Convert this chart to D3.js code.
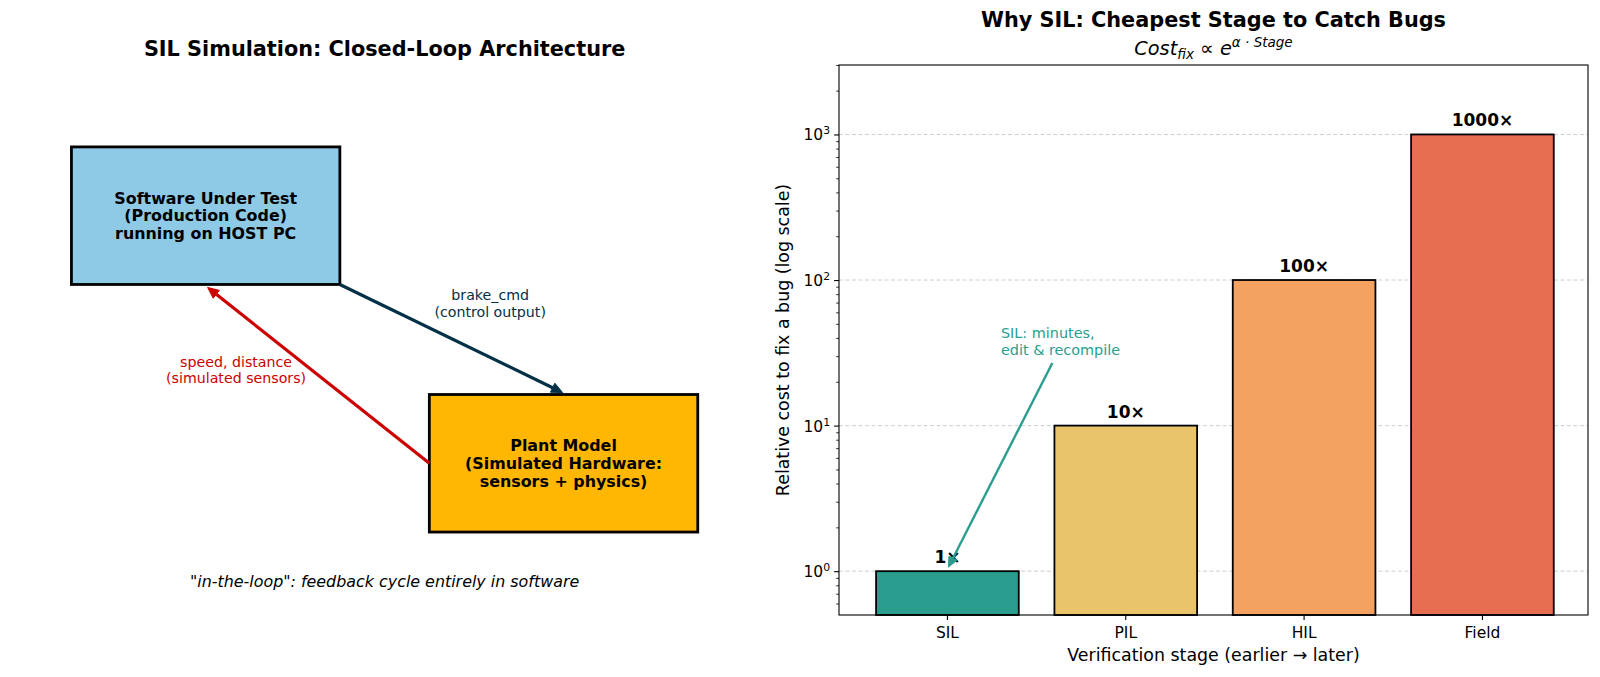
<!DOCTYPE html>
<html>
<head>
<meta charset="utf-8">
<script src="https://cdn.jsdelivr.net/npm/d3@7"></script>
<style>
  body { margin: 0; background: #fff; }
  text { font-family: 'DejaVu Sans', sans-serif; }
</style>
</head>
<body>
<script>
var W = 1600, H = 677;

// ---- data: right panel ----
var stages = ['SIL', 'PIL', 'HIL', 'Field'];
var relCost = [1, 10, 100, 1000];
var costLabels = ['1×', '10×', '100×', '1000×'];
var stageColors = ['#2a9d8f', '#e9c46a', '#f4a261', '#e76f51'];
var majorTicks = [1, 10, 100, 1000];
var minorTicks = [0.6, 0.7, 0.8, 0.9, 2, 3, 4, 5, 6, 7, 8, 9,
  20, 30, 40, 50, 60, 70, 80, 90, 200, 300, 400, 500, 600, 700, 800, 900, 2000, 3000];
var noteLines = ['SIL: minutes,', 'edit & recompile'];

// ---- data: left panel ----
var swLines = ['Software Under Test', '(Production Code)', 'running on HOST PC'];
var plantLines = ['Plant Model', '(Simulated Hardware:', 'sensors + physics)'];
var cmdLines = ['brake_cmd', '(control output)'];
var sensorLines = ['speed, distance', '(simulated sensors)'];
var caption = '"in-the-loop": feedback cycle entirely in software';

var svg = d3.select('body').append('svg').attr('width', W).attr('height', H);
svg.append('rect').attr('width', W).attr('height', H).attr('fill', '#fff');

// ================= left panel: diagram in 0..8 x 0..7 units =================
var dx = d3.scaleLinear().domain([0, 8]).range([26.7, 742.5]);
var dy = d3.scaleLinear().domain([0, 7]).range([669.6, 27.7]);

var left = svg.append('g');

left.append('text')
  .attr('x', dx(4)).attr('y', 56)
  .attr('text-anchor', 'middle')
  .attr('font-size', 20.8).attr('font-weight', 'bold')
  .text('SIL Simulation: Closed-Loop Architecture');

function box(x0, y0, w, h, fill, lines) {
  left.append('rect')
    .attr('x', dx(x0)).attr('y', dy(y0 + h))
    .attr('width', dx(x0 + w) - dx(x0)).attr('height', dy(y0) - dy(y0 + h))
    .attr('fill', fill).attr('stroke', '#000').attr('stroke-width', 2.8);
  var cx = dx(x0 + w / 2), cy = dy(y0 + h / 2);
  left.append('text')
    .attr('text-anchor', 'middle')
    .attr('font-size', 15.9).attr('font-weight', 'bold')
    .selectAll('tspan').data(lines).enter().append('tspan')
    .attr('x', cx)
    .attr('y', function(d, i) { return cy + 5.7 + (i - 1) * 17.8; })
    .text(function(d) { return d; });
}

function arrow(g, x1, y1, x2, y2, color, lw, headLen, headW) {
  var ang = Math.atan2(y2 - y1, x2 - x1);
  var bx = x2 - headLen * Math.cos(ang), by = y2 - headLen * Math.sin(ang);
  g.append('line')
    .attr('x1', x1).attr('y1', y1).attr('x2', bx).attr('y2', by)
    .attr('stroke', color).attr('stroke-width', lw);
  var px = -Math.sin(ang) * headW, py = Math.cos(ang) * headW;
  g.append('path')
    .attr('d', 'M' + x2 + ',' + y2 + 'L' + (bx + px) + ',' + (by + py) + 'L' + (bx - px) + ',' + (by - py) + 'Z')
    .attr('fill', color).attr('stroke', color).attr('stroke-width', 1)
    .attr('stroke-linejoin', 'miter');
}

box(0.5, 4.2, 3, 1.5, '#8ecae6', swLines);
box(4.5, 1.5, 3, 1.5, '#ffb703', plantLines);

// control output: SW -> plant
arrow(left, dx(3.5), dy(4.2), dx(6.0) - 1, dy(3.0) - 2, '#023047', 3.2, 11, 5);
// sensors: plant -> SW
arrow(left, dx(4.5), dy(2.25), dx(2.0) + 2, dy(4.2) + 3, '#cc0000', 3.2, 11, 5);

function label(lines, x, baseY, color, size, gap) {
  left.append('text')
    .attr('text-anchor', 'middle')
    .attr('font-size', size).attr('fill', color)
    .selectAll('tspan').data(lines).enter().append('tspan')
    .attr('x', x)
    .attr('y', function(d, i) { return baseY + i * gap; })
    .text(function(d) { return d; });
}
label(cmdLines, dx(5.18), 300, '#023047', 14.2, 16.5);
label(sensorLines, dx(2.34), 366.5, '#cc0000', 14.2, 16.5);

left.append('text')
  .attr('x', dx(4)).attr('y', 587)
  .attr('text-anchor', 'middle')
  .attr('font-size', 15.9).attr('font-style', 'italic')
  .text(caption);

// ================= right panel: log bar chart =================
var m = { left: 839, right: 1588, top: 65, bottom: 615 };

var x = d3.scaleBand().domain(stages).range([m.left, m.right])
  .paddingInner(0.2).paddingOuter(0.2).align(0.52);
var y = d3.scaleLog().domain([0.5, 3000]).range([m.bottom, m.top]);
var step = x.step();

var right = svg.append('g');

right.append('text')
  .attr('x', (m.left + m.right) / 2).attr('y', 27)
  .attr('text-anchor', 'middle')
  .attr('font-size', 20.8).attr('font-weight', 'bold')
  .text('Why SIL: Cheapest Stage to Catch Bugs');

var sub = right.append('text')
  .attr('x', (m.left + m.right) / 2).attr('y', 55)
  .attr('text-anchor', 'middle')
  .attr('font-size', 19.3).attr('font-style', 'italic');
sub.append('tspan').text('Cost');
sub.append('tspan').attr('font-size', 13.5).attr('dy', 4).text('fix');
sub.append('tspan').attr('dy', -4).attr('font-style', 'normal').text(' ∝ ');
sub.append('tspan').text('e');
sub.append('tspan').attr('font-size', 13.5).attr('dy', -8.5).text('α · Stage');

// grid
right.append('g').selectAll('line').data(majorTicks).enter().append('line')
  .attr('x1', m.left).attr('x2', m.right)
  .attr('y1', function(d) { return y(d); }).attr('y2', function(d) { return y(d); })
  .attr('stroke', '#c8c8c8').attr('stroke-width', 0.9)
  .attr('stroke-dasharray', '4,2.5');

// bars
right.append('g').selectAll('rect').data(relCost).enter().append('rect')
  .attr('x', function(d, i) { return x(stages[i]); })
  .attr('y', function(d) { return y(d); })
  .attr('width', x.bandwidth())
  .attr('height', function(d) { return m.bottom - y(d); })
  .attr('fill', function(d, i) { return stageColors[i]; })
  .attr('stroke', '#000').attr('stroke-width', 1.8);

right.append('g').selectAll('text').data(relCost).enter().append('text')
  .attr('x', function(d, i) { return x(stages[i]) + x.bandwidth() / 2; })
  .attr('y', function(d) { return y(d) - 8; })
  .attr('text-anchor', 'middle')
  .attr('font-size', 17).attr('font-weight', 'bold')
  .text(function(d, i) { return costLabels[i]; });

// axes
var yMinor = d3.axisLeft(y).tickValues(minorTicks).tickSize(2.8).tickFormat('');
var gMinor = right.append('g').attr('transform', 'translate(' + m.left + ',0)').call(yMinor);
gMinor.select('.domain').remove();

var yAxis = d3.axisLeft(y).tickValues(majorTicks).tickSize(4.9).tickPadding(4)
  .tickFormat(function() { return '10'; });
var gY = right.append('g').attr('transform', 'translate(' + m.left + ',0)').call(yAxis);
gY.select('.domain').remove();
gY.selectAll('.tick text')
  .attr('font-size', 15.5).attr('font-family', 'DejaVu Sans').attr('fill', '#000')
  .attr('dy', '0.35em')
  .each(function(d) {
    d3.select(this).append('tspan')
      .attr('font-size', 10.8).attr('dy', '-0.55em')
      .text(Math.round(Math.log10(d)));
  });
gY.selectAll('.tick line').attr('stroke', '#000').attr('stroke-width', 1.1);
gMinor.selectAll('.tick line').attr('stroke', '#000').attr('stroke-width', 0.8);

var xAxis = d3.axisBottom(x).tickSize(4.9).tickPadding(7);
var gX = right.append('g').attr('transform', 'translate(0,' + m.bottom + ')').call(xAxis);
gX.select('.domain').remove();
gX.selectAll('.tick text')
  .attr('font-size', 15.5).attr('font-family', 'DejaVu Sans').attr('fill', '#000');
gX.selectAll('.tick line').attr('stroke', '#000').attr('stroke-width', 1.1);

// frame
right.append('rect')
  .attr('x', m.left).attr('y', m.top)
  .attr('width', m.right - m.left).attr('height', m.bottom - m.top)
  .attr('fill', 'none').attr('stroke', '#000').attr('stroke-width', 1.1);

right.append('text')
  .attr('transform', 'translate(789,' + (m.top + m.bottom) / 2 + ') rotate(-90)')
  .attr('text-anchor', 'middle')
  .attr('font-size', 17.4)
  .text('Relative cost to fix a bug (log scale)');

right.append('text')
  .attr('x', (m.left + m.right) / 2).attr('y', 661)
  .attr('text-anchor', 'middle')
  .attr('font-size', 17.4)
  .text('Verification stage (earlier → later)');

// annotation on SIL bar
var sil0 = x('SIL') + x.bandwidth() / 2;
var noteX = sil0 + 0.3 * step;
var noteY = y(30);
right.append('text')
  .attr('font-size', 14.4).attr('fill', '#2a9d8f')
  .selectAll('tspan').data(noteLines).enter().append('tspan')
  .attr('x', noteX)
  .attr('y', function(d, i) { return noteY - 1.5 - (noteLines.length - 1 - i) * 16.5; })
  .text(function(d) { return d; });

var tipX = sil0 + 1, tipY = y(1.1) + 2;
var cX = noteX + 60, cY = noteY - 10;
var t = (363 - cY) / (tipY - cY);
arrow(right, cX + t * (tipX - cX), 363, tipX, tipY, '#2a9d8f', 2.4, 10, 4.5);
</script>
</body>
</html>
